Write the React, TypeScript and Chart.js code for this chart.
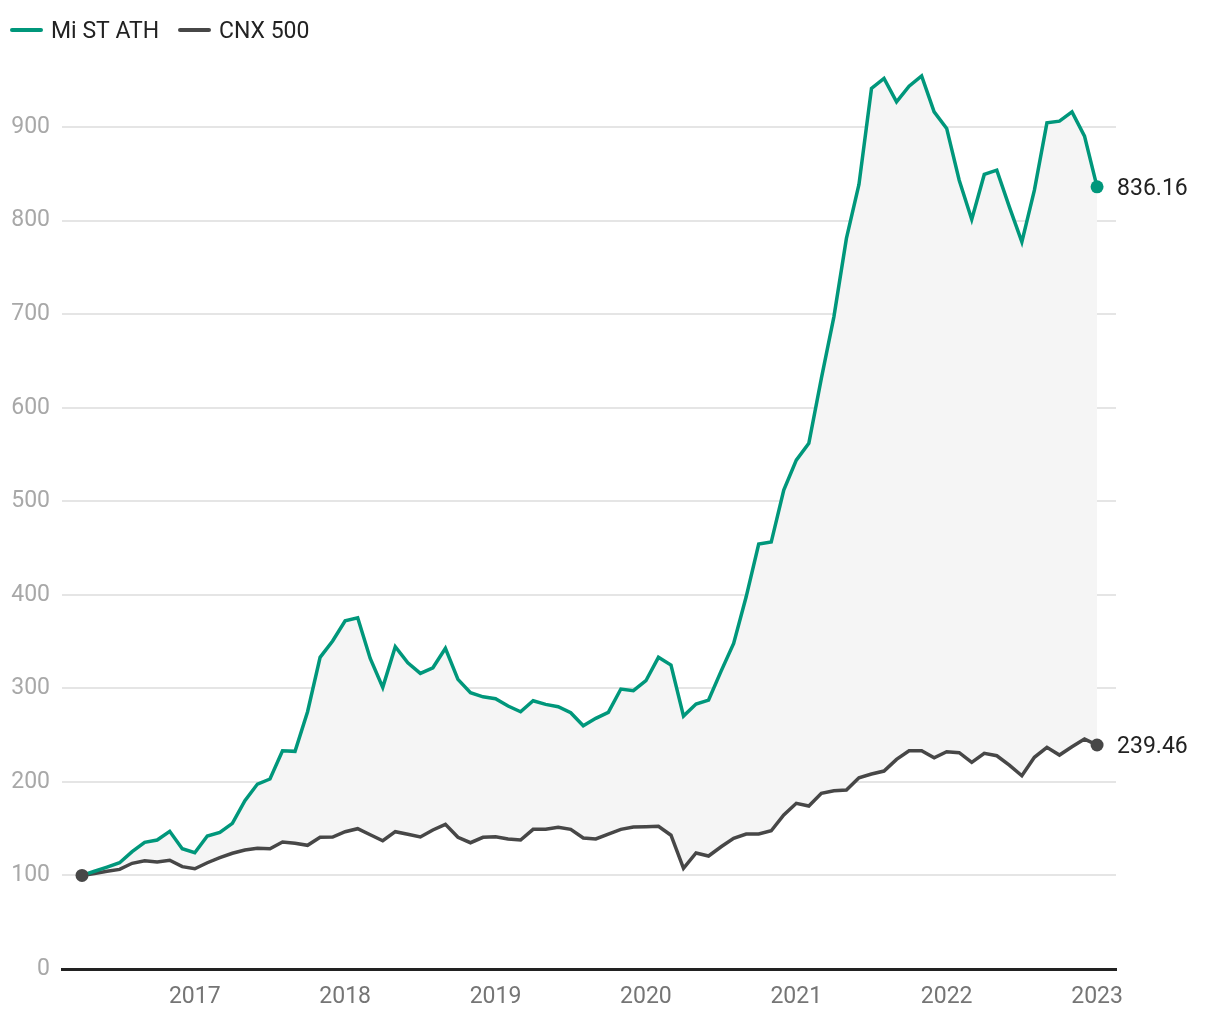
import { useEffect, useRef } from "react";
import { Chart, registerables } from "chart.js";

Chart.register(...registerables);

// Monthly series starting April 2016, ending January 2023
const START_YEAR = 2016;
const START_MONTH = 4;

const seriesNames = ["Mi ST ATH", "CNX 500"];

const miStAth = [
  100, 104.5, 109, 113.6, 125.4, 135.4, 137.9, 147.2, 128.6, 124.3,
  142.2, 146.1, 155.7, 179.9, 197.7, 203.1, 233.3, 232.7, 275, 333.2,
  350.6, 372.3, 375.5, 332, 301.1, 344.5, 327.4, 316, 322, 342.8,
  309.6, 295.3, 291, 288.9, 281.1, 275, 286.8, 282.9, 280.4, 273.9,
  260, 268, 274.4, 299.3, 297.5, 308.2, 333.2, 324.9, 270.4, 283.2,
  287.5, 318.5, 348.1, 397.9, 454.3, 456.4, 512, 544, 561.9, 631.4,
  697.2, 781, 838.7, 941.3, 952, 927, 943.8, 954.8, 916.3, 898.6,
  843.3, 801.3, 849.4, 854, 814.8, 777.4, 832.6, 904.6, 906.4, 916.3,
  890.3, 836.16,
];

const cnx500 = [
  100, 102.2, 104.4, 106.5, 113, 115.8, 114.4, 116.2, 109.4, 107.2,
  113.6, 119, 123.7, 127.2, 129, 128.6, 135.7, 134.4, 132.2, 140.8,
  141.1, 146.8, 150, 143.5, 137.1, 146.8, 144, 141.1, 148.6, 154.6,
  140.8, 135, 140.8, 141.4, 139, 137.9, 149.3, 149.3, 151.5, 149.3,
  140, 139, 144.3, 149.3, 151.8, 152.1, 152.5, 143, 107.6, 124,
  120.8, 130.7, 139.7, 144.3, 144.3, 147.8, 164.6, 177.1, 174.2, 187.8,
  190.6, 191.3, 204.5, 208.4, 211.6, 224.1, 233.3, 233.3, 225.8, 232.3,
  231.2, 220.9, 230.5, 228, 218, 206.6, 226.3, 237, 228.7, 237.6,
  245.8, 239.46,
];

const yearTicks = [2017, 2018, 2019, 2020, 2021, 2022, 2023];
const valueTicks = [0, 100, 200, 300, 400, 500, 600, 700, 800, 900];

const TEAL = "#00977b";
const DARK = "#474747";
const FONT = "Roboto";
const FS = 23;

// time coordinate (fractional years) for each monthly observation
const monthTimes = miStAth.map((_, i) => START_YEAR + (START_MONTH - 1 + i) / 12);

const overlayPlugin = {
  id: "overlay",
  afterDatasetsDraw(chart: any) {
    const ctx = chart.ctx;
    ctx.save();
    const colors = [TEAL, DARK];
    const startPt = chart.getDatasetMeta(1).data[0];
    ctx.fillStyle = DARK;
    ctx.beginPath();
    ctx.arc(startPt.x, startPt.y, 6.5, 0, Math.PI * 2);
    ctx.fill();
    chart.data.datasets.forEach((ds: any, di: number) => {
      const meta = chart.getDatasetMeta(di);
      const last = meta.data[meta.data.length - 1];
      const val = ds.data[ds.data.length - 1].y;
      ctx.fillStyle = colors[di];
      ctx.beginPath();
      ctx.arc(last.x, last.y, 6.5, 0, Math.PI * 2);
      ctx.fill();
      ctx.fillStyle = "#222";
      ctx.font = `${FS}px ${FONT}`;
      ctx.textAlign = "left";
      ctx.textBaseline = "middle";
      ctx.fillText(val.toFixed(2), last.x + 20, last.y + 2);
    });
    ctx.restore();
  },
  afterDraw(chart: any) {
    const ctx = chart.ctx;
    ctx.save();
    const items = [
      { x: 12, w: 29, tx: 51, color: TEAL, label: seriesNames[0] },
      { x: 180, w: 29, tx: 219, color: DARK, label: seriesNames[1] },
    ];
    items.forEach((it) => {
      ctx.strokeStyle = it.color;
      ctx.lineWidth = 4;
      ctx.lineCap = "round";
      ctx.beginPath();
      ctx.moveTo(it.x, 30);
      ctx.lineTo(it.x + it.w, 30);
      ctx.stroke();
      ctx.fillStyle = "#222";
      ctx.font = `${FS}px ${FONT}`;
      ctx.textAlign = "left";
      ctx.textBaseline = "middle";
      ctx.fillText(it.label, it.tx, 32);
    });
    ctx.restore();
  },
};

export default function App() {
  const ref = useRef<HTMLCanvasElement>(null);

  useEffect(() => {
    if (!ref.current) return;
    const chart = new Chart(ref.current, {
      type: "line",
      data: {
        datasets: [
          {
            label: seriesNames[0],
            data: miStAth.map((v, i) => ({ x: monthTimes[i], y: v })),
            borderColor: TEAL,
            borderWidth: 3.5,
            backgroundColor: "#f5f5f5",
            fill: "+1",
            pointRadius: 0,
            tension: 0,
          },
          {
            label: seriesNames[1],
            data: cnx500.map((v, i) => ({ x: monthTimes[i], y: v })),
            borderColor: DARK,
            borderWidth: 3.5,
            fill: false,
            pointRadius: 0,
            tension: 0,
          },
        ],
      },
      options: {
        responsive: false,
        animation: false,
        devicePixelRatio: 1,
        layout: { padding: { top: 71, right: 104, bottom: 0, left: 0 } },
        plugins: {
          legend: { display: false },
          tooltip: { enabled: false },
          filler: { drawTime: "beforeDatasetsDraw" },
        } as any,
        scales: {
          x: {
            type: "linear",
            min: 2016.117,
            max: 2023.126,
            afterBuildTicks: (s: any) => {
              s.ticks = yearTicks.map((v) => ({ value: v }));
            },
            afterFit: (s: any) => {
              s.height = 51;
            },
            grid: { display: false, drawTicks: false },
            border: { display: true, color: "#222", width: 3 },
            ticks: {
              color: "#757575",
              font: { family: FONT, size: FS },
              padding: 14,
              maxRotation: 0,
              autoSkip: false,
              callback: (v: any) => String(v),
            },
          },
          y: {
            type: "linear",
            min: 0,
            max: 960,
            afterBuildTicks: (s: any) => {
              s.ticks = valueTicks.map((v) => ({ value: v }));
            },
            afterFit: (s: any) => {
              s.width = 62;
            },
            grid: { color: "#e5e5e5", lineWidth: 2, drawTicks: false },
            border: { display: false },
            ticks: {
              color: "#a8a8a8",
              font: { family: FONT, size: FS },
              padding: 12,
              callback: (v: any) => String(v),
            },
          },
        },
      },
      plugins: [overlayPlugin],
    });
    return () => chart.destroy();
  }, []);

  return (
    <div style={{ position: "fixed", left: 0, top: 0, width: 1220, height: 1020, background: "#fff" }}>
      <canvas ref={ref} width={1220} height={1020} style={{ display: "block" }} />
    </div>
  );
}
